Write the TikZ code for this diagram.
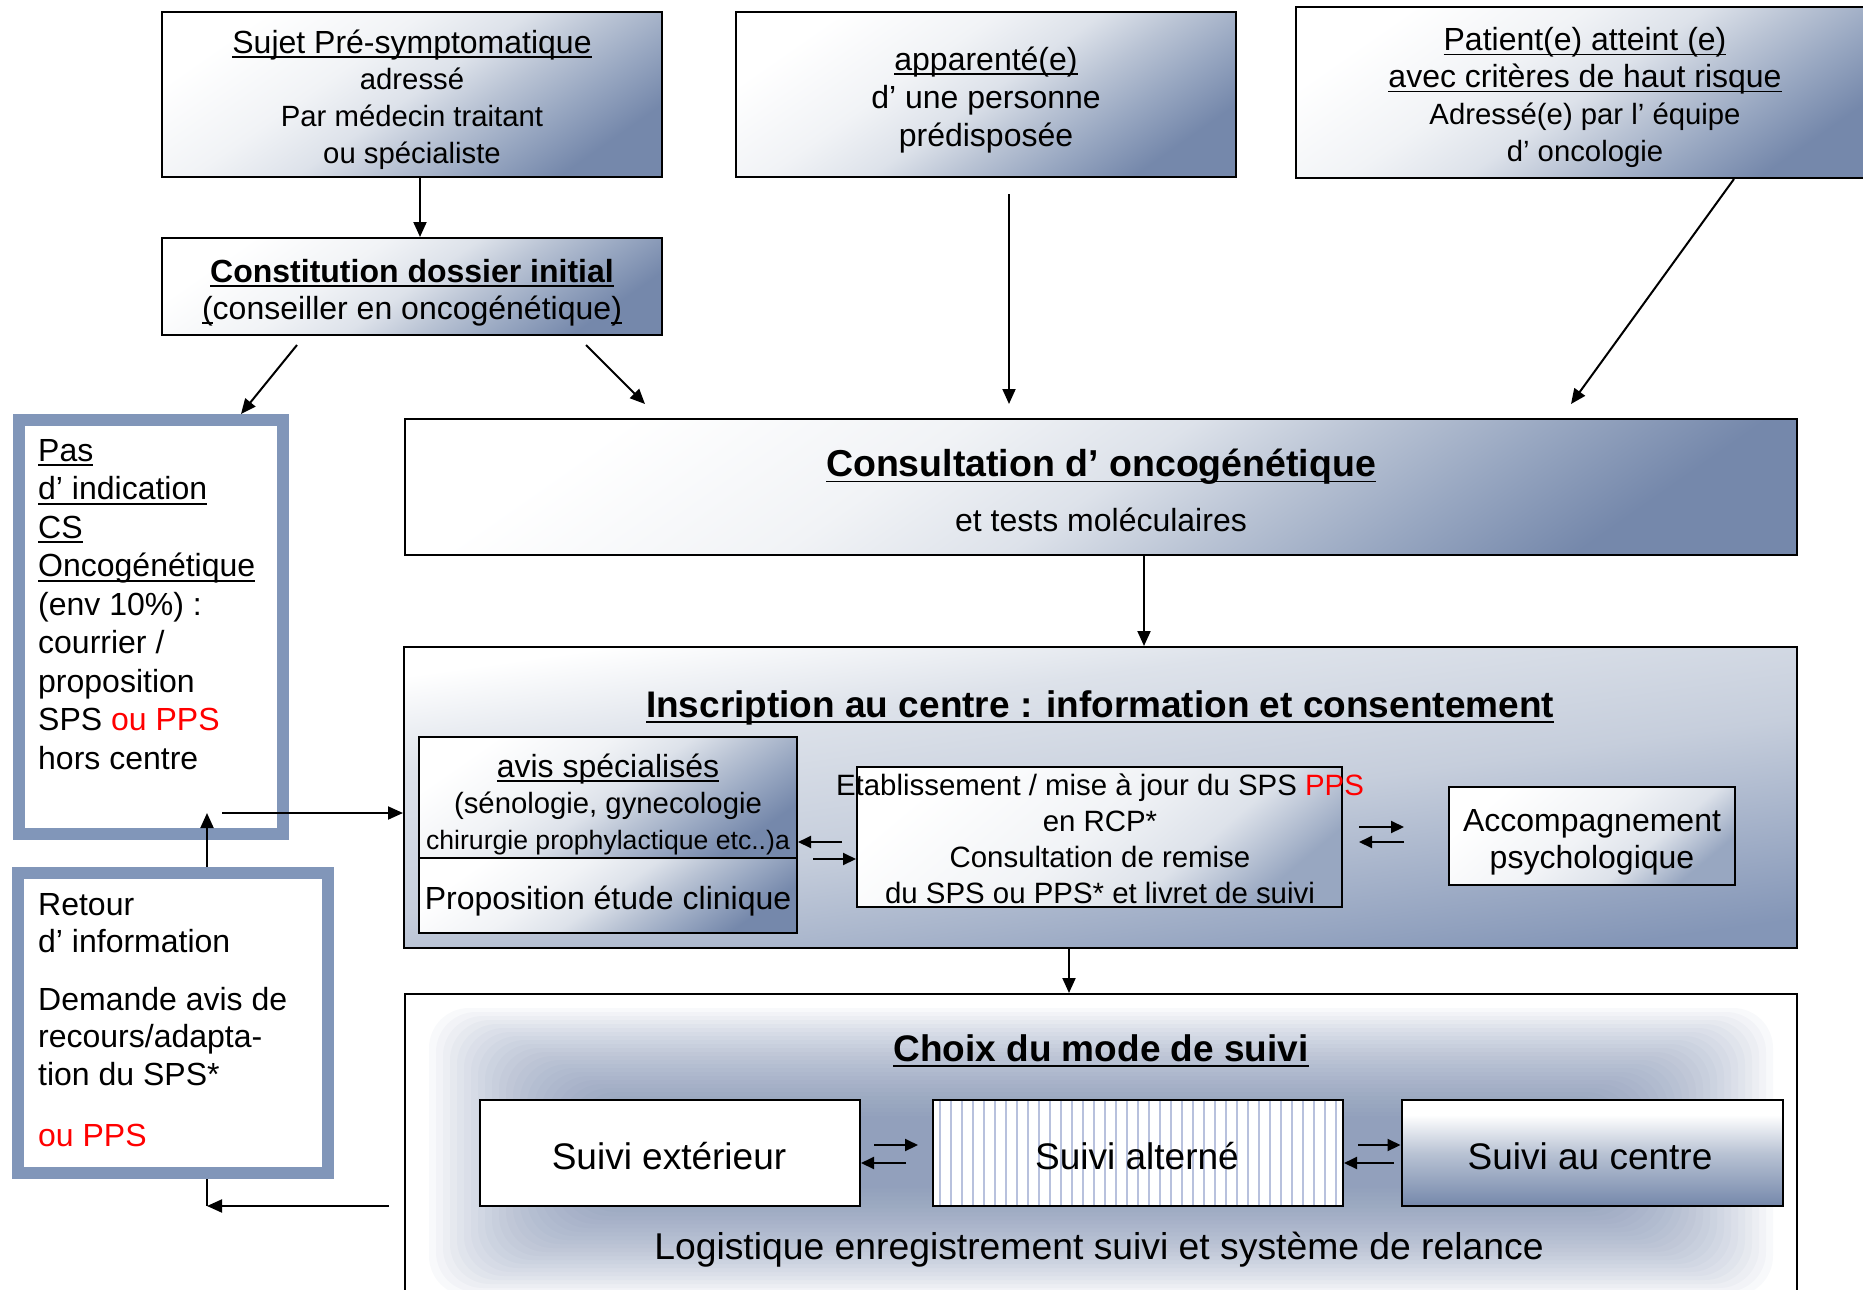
\documentclass[tikz,border=0pt]{standalone}
\usepackage{fontspec}
\setmainfont{Liberation Sans}
\newcommand{\uln}[1]{\setbox0\hbox{#1}\leavevmode\rlap{\rule[-0.15em]{\wd0}{1.8pt}}\box0}
\newcommand{\sm}[1]{{\fontsize{29.3}{36.8}\selectfont #1}}
\usetikzlibrary{arrows.meta,calc}
\definecolor{shL}{HTML}{DDE2EA}
\definecolor{shM}{HTML}{B9C3D4}
\definecolor{shN}{HTML}{98A7C1}
\definecolor{shD}{HTML}{7588AB}
\definecolor{shLL}{HTML}{F1F3F6}
\definecolor{vM}{HTML}{C6CEDC}
\definecolor{vD}{HTML}{8496B7}
\definecolor{frameblue}{HTML}{8196B9}
\definecolor{stripecol}{HTML}{B8C1DD}
\definecolor{glowD}{HTML}{7085AA}
\pgfdeclarehorizontalshading{hsh}{100bp}{color(0bp)=(white); color(25bp)=(white); color(40bp)=(shLL); color(50bp)=(shL); color(58bp)=(shM); color(66bp)=(shN); color(75bp)=(shD); color(100bp)=(shD)}
\pgfdeclarehorizontalshading{hshl}{100bp}{color(0bp)=(white); color(25bp)=(white); color(48bp)=(shLL); color(62bp)=(shL); color(75bp)=(shN); color(100bp)=(shN)}
\pgfdeclareverticalshading{vsh}{100bp}{color(0bp)=(vD); color(25bp)=(vD); color(48bp)=(vM); color(64bp)=(shL); color(75bp)=(white); color(100bp)=(white)}
\pgfdeclareverticalshading{vshc}{100bp}{color(0bp)=(shD); color(25bp)=(shD); color(50bp)=(shM); color(68bp)=(white); color(100bp)=(white)}
\tikzset{
  gbox/.style={draw=black, line width=2pt, shade, shading=hsh, shading angle=-55, inner sep=0pt},
  lbox/.style={draw=black, line width=2pt, shade, shading=hshl, shading angle=-50, inner sep=0pt},
  frame/.style={draw=frameblue, line width=12pt, fill=white, inner sep=0pt},
  plainbox/.style={draw=black, line width=2pt, fill=white, inner sep=0pt},
  txt/.style={align=center, inner sep=0pt},
  arr/.style={line width=2pt, -{Triangle[length=15pt,width=13pt]}},
  sarr/.style={line width=2pt, -{Triangle[length=13pt,width=12pt]}},
  stripes/.style={path picture={\foreach \k in {0,...,37}{\draw[stripecol, line width=2.5pt] ([xshift=\k*11pt+7pt]path picture bounding box.north west) -- ([xshift=\k*11pt+7pt]path picture bounding box.south west);}}},
}
\begin{document}
\begin{tikzpicture}[x=1pt,y=-1pt]
\useasboundingbox (0,0) rectangle (1863,1290);
\clip (0,0) rectangle (1863,1290);
\fill[white] (0,0) rectangle (1863,1290);

% top row
\node[gbox, minimum width=500pt, minimum height=165pt] (s1) at (412,94.5) {};
\node[txt, font=\fontsize{32}{36.8}\selectfont] (s1txt) at (412,99.5)
  {\uln{Sujet Pré-symptomatique}\\ \sm{adressé}\\ \sm{Par médecin traitant}\\ \sm{ou spécialiste}};
\node[gbox, minimum width=500pt, minimum height=97pt] (cdi) at (412,286.5) {};
\node[txt, font=\fontsize{32}{37}\selectfont] (cditxt) at (412,292.5)
  {\textbf{\uln{Constitution dossier initial}}\\ \uln{(}conseiller en oncogénétique\uln{)}};
\node[gbox, minimum width=500pt, minimum height=165pt] (app) at (986,94.5) {};
\node[txt, font=\fontsize{32}{38}\selectfont] (apptxt) at (986,99.7)
  {\uln{apparenté(e)}\\ d’ une personne\\ prédisposée};
\node[gbox, minimum width=578pt, minimum height=171pt] (pat) at (1585,92.5) {};
\node[txt, font=\fontsize{32}{37}\selectfont] (pattxt) at (1585,97.5)
  {\uln{Patient(e) atteint (e)}\\ \uln{avec critères de haut risque}\\ \sm{Adressé(e) par l’ équipe}\\ \sm{d’ oncologie}};

% left frames
\node[frame, minimum width=264pt, minimum height=414pt] (pas) at (151,627) {};
\node[anchor=north west, align=left, inner sep=0pt, font=\fontsize{32}{38.5}\selectfont] (pastxt) at (38,439)
  {\uln{Pas}\\ \uln{d’ indication}\\ \uln{CS}\\ \uln{Oncogénétique}\\ (env 10\%) :\\ courrier /\\ proposition\\ SPS \textcolor{red}{ou PPS}\\ hors centre};
\node[frame, minimum width=310pt, minimum height=300pt] (ret) at (173,1023) {};
\node[anchor=north west, align=left, inner sep=0pt, font=\fontsize{32}{37.5}\selectfont] (rettxt) at (38,893)
  {Retour\\ d’ information\\[20pt] Demande avis de\\ recours/adapta-\\ tion du SPS*\\[24pt] \textcolor{red}{ou PPS}};

% consultation
\node[gbox, minimum width=1392pt, minimum height=136pt] (cons) at (1101,487) {};
\node[font=\bfseries\fontsize{37.5}{40}\selectfont] (constitle) at (1101,467) {\uln{Consultation d’ oncogénétique}};
\node[font=\fontsize{32}{36}\selectfont] (conssub) at (1101,520) {et tests moléculaires};

% inscription
\node[draw=black, line width=2pt, shade, shading=vsh, shading angle=8, minimum width=1393pt, minimum height=301pt] (ins) at (1100.5,797.5) {};
\node[font=\bfseries\fontsize{37}{40}\selectfont] (institle) at (1100,708) {\uln{Inscription au centre : information et consentement}};
\node[gbox, minimum width=378pt, minimum height=121pt] (avis) at (608,797.5) {};
\node[txt, font=\fontsize{32}{36}\selectfont] (avistxt) at (608,804)
  {\uln{avis spécialisés}\\ \sm{(sénologie, gynecologie}\\ {\fontsize{26.6}{36}\selectfont chirurgie prophylactique etc..)a}};
\node[gbox, minimum width=378pt, minimum height=75pt] (prop) at (608,895.5) {};
\node[txt, font=\fontsize{32}{36}\selectfont] (proptxt) at (608,901.5) {Proposition étude clinique};
\node[lbox, minimum width=485pt, minimum height=140pt] (etab) at (1099.5,837) {};
\node[txt, font=\fontsize{29.4}{36}\selectfont] (etabtxt) at (1100,839)
  {Etablissement / mise à jour du SPS \textcolor{red}{PPS}\\ en RCP*\\ Consultation de remise\\ du SPS ou PPS* et livret de suivi};
\node[lbox, minimum width=286pt, minimum height=98pt] (acc) at (1592,836) {};
\node[txt, font=\fontsize{32}{37}\selectfont] (acctxt) at (1592,842) {Accompagnement\\ psychologique};

% choix
\node[draw=black, line width=2pt, fill=white, minimum width=1392pt, minimum height=316pt] (choix) at (1101,1152) {};
\foreach \i in {0,...,27}{
  \fill[glowD, fill opacity=0.045, rounded corners=40pt]
    ([shift={(25+\i*7,15+\i*4)}]choix.north west) rectangle ([shift={(-25-\i*7,-15-\i*4)}]choix.south east);
}
\node[font=\bfseries\fontsize{37}{40}\selectfont] (choixtitle) at (1101,1051) {\uln{Choix du mode de suivi}};
\node[font=\fontsize{37.3}{40}\selectfont] (logi) at (1099,1250) {Logistique enregistrement suivi et système de relance};
\node[plainbox, minimum width=380pt, minimum height=106pt] (ext) at (670,1153) {};
\node[txt, font=\fontsize{37}{40}\selectfont] (exttxt) at (669,1156) {Suivi extérieur};
\node[plainbox, stripes, minimum width=410pt, minimum height=106pt] (alt) at (1138,1153) {};
\node[txt, font=\fontsize{37}{40}\selectfont] (alttxt) at (1137,1156) {Suivi alterné};
\node[draw=black, line width=2pt, shade, shading=vshc, inner sep=0pt, minimum width=381pt, minimum height=106pt] (cen) at (1592,1153) {};
\node[txt, font=\fontsize{37}{40}\selectfont] (centxt) at (1590,1156) {Suivi au centre};

% connectors
\draw[arr] ([xshift=8pt]s1.south) -- ([xshift=8pt]cdi.north);
\coordinate (c1) at (297,345); \coordinate (c1x) at (241,0);
\draw[arr] (c1) -- (pas.north -| c1x);
\coordinate (c2) at (586,345); \coordinate (c2e) at (645,404);
\draw[arr] (c2) -- (c2e);
\coordinate (c3) at (1009,194); \coordinate (c3e) at (1009,404);
\draw[arr] (c3) -- (c3e);
\coordinate (c4) at (1734,0); \coordinate (c4e) at (1571,404);
\draw[arr] (pat.south -| c4) -- (c4e);
\coordinate (c5) at (1144,0);
\draw[arr] (cons.south -| c5) -- (ins.north -| c5);
\coordinate (c6) at (1069,0);
\draw[arr] (ins.south -| c6) -- (choix.north -| c6);
\coordinate (c7) at (222,813);
\draw[arr] (c7) -- (c7 -| ins.west);
\coordinate (c8) at (207,813);
\draw[arr] (ret.north -| c8) -- (c8);
\coordinate (c9) at (389,1206); \coordinate (c9e) at (207,1206);
\draw[arr] (c9) -- (c9e);
\draw[line width=2pt] (ret.south -| c9e) -- (c9e);

% inner arrows
\coordinate (d1) at (842,842);
\draw[sarr] (d1) -- (d1 -| avis.east);
\coordinate (d2) at (813,859);
\draw[sarr] (d2) -- (d2 -| etab.west);
\coordinate (d3) at (1359,827); \coordinate (d3e) at (1404,827);
\draw[sarr] (d3) -- (d3e);
\coordinate (d4) at (1404,842); \coordinate (d4e) at (1359,842);
\draw[sarr] (d4) -- (d4e);
\coordinate (e1) at (874,1145); \coordinate (e1e) at (918,1145);
\draw[sarr] (e1) -- (e1e);
\coordinate (e2) at (906,1163);
\draw[sarr] (e2) -- (e2 -| ext.east);
\coordinate (e3) at (1358,1145);
\draw[sarr] (e3) -- (e3 -| cen.west);
\coordinate (e4) at (1394,1163);
\draw[sarr] (e4) -- (e4 -| alt.east);
\end{tikzpicture}
\end{document}
